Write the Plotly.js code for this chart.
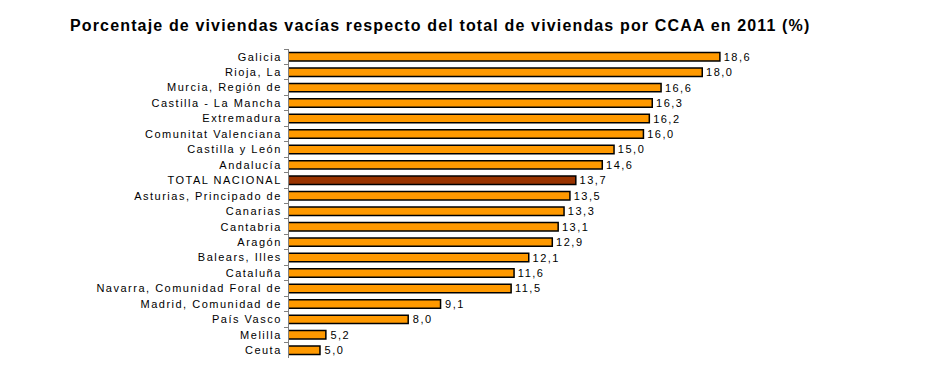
<!DOCTYPE html>
<html><head><meta charset="utf-8">
<script src="https://cdn.plot.ly/plotly-3.0.1.min.js"></script>
<style>
body{margin:0;background:#fff}#c{width:926px;height:387px}
#c .ytick text{letter-spacing:1.5px}
#c .bartext{letter-spacing:1.5px}
#c .gtitle{letter-spacing:1.15px}
</style>
</head><body><div id="c"></div>
<script>
const regions = ["Galicia","Rioja, La","Murcia, Región de","Castilla - La Mancha","Extremadura","Comunitat Valenciana","Castilla y León","Andalucía","TOTAL NACIONAL","Asturias, Principado de","Canarias","Cantabria","Aragón","Balears, Illes","Cataluña","Navarra, Comunidad Foral de","Madrid, Comunidad de","País Vasco","Melilla","Ceuta"];
const values = [18.6,18.0,16.6,16.3,16.2,16.0,15.0,14.6,13.7,13.5,13.3,13.1,12.9,12.1,11.6,11.5,9.1,8.0,5.2,5.0];
const colors = regions.map(r => r === "TOTAL NACIONAL" ? "#993300" : "#FF9900");
const trace = {
  type: "bar", orientation: "h",
  y: regions, x: values,
  base: 0,
  marker: {color: colors, line: {color: "#000", width: 1.5}},
  width: 0.55,
  text: values.map(v => "\u00a0" + v.toFixed(1).replace(".", ",")),
  textposition: "outside", cliponaxis: false, constraintext: "none",
  textfont: {family: "Liberation Sans, Arial", size: 11, color: "#000"},
  hoverinfo: "skip"
};
const layout = {
  width: 926, height: 387,
  margin: {l: 289, r: 167, t: 49, b: 29},
  paper_bgcolor: "#fff", plot_bgcolor: "#fff",
  showlegend: false,
  title: {text: "<b>Porcentaje de viviendas vacías respecto del total de viviendas por CCAA en 2011 (%)</b>",
    x: 70/926, xref: "container", xanchor: "left", y: 0.95, yref: "container",
    font: {family: "Liberation Sans, Arial", size: 16, color: "#000"}},
  xaxis: {range: [3.946, 19.93], visible: false, fixedrange: true},
  yaxis: {type: "category", autorange: "reversed", showline: true, linecolor: "#808080", linewidth: 1,
    ticks: "outside", tickson: "boundaries", ticklen: 4, tickcolor: "#808080",
    showgrid: false, zeroline: false, ticklabelstandoff: 4,
    tickfont: {family: "Liberation Sans, Arial", size: 11, color: "#000"}},
  font: {family: "Liberation Sans, Arial"}
};
Plotly.newPlot("c", [trace], layout, {staticPlot: true});
</script></body></html>
